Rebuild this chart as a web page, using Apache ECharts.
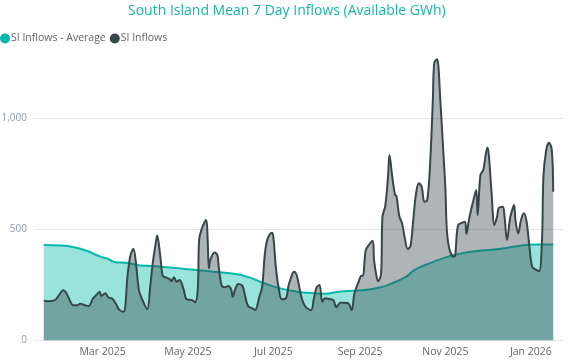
<!DOCTYPE html>
<html>
<head>
<meta charset="utf-8">
<script src="https://cdn.jsdelivr.net/npm/echarts@6/dist/echarts.min.js"></script>
<style>html,body{margin:0;padding:0;background:#fff}#c{width:569px;height:360px}</style>
</head>
<body>
<div id="c"></div>
<script>
const titleText = 'South Island Mean 7 Day Inflows (Available GWh)';
const seriesNames = ['SI Inflows - Average', 'SI Inflows'];

const avgDates = ['2025-01-18','2025-01-30','2025-02-08','2025-02-18','2025-02-27','2025-03-05','2025-03-10','2025-03-19','2025-03-28','2025-04-05','2025-04-16','2025-04-25','2025-05-07','2025-05-19','2025-05-31','2025-06-12','2025-06-24','2025-07-06','2025-07-18','2025-07-30','2025-08-06','2025-08-18','2025-08-27','2025-09-06','2025-09-15','2025-09-22','2025-10-04','2025-10-10','2025-10-22','2025-11-03','2025-11-15','2025-11-27','2025-12-09','2025-12-21','2026-01-02','2026-01-17'];
const avgValues = [429,427,420,402,378,366,352,348,337,335,329,324,317,309,302,287,258,234,219,212,210,220,223,228,238,252,287,317,350,377,395,404,411,422,431,431];

const inflowDates = [
'2025-01-18','2025-01-21','2025-01-26','2025-01-28','2025-02-01','2025-02-03','2025-02-06','2025-02-08','2025-02-11','2025-02-13',
'2025-02-16','2025-02-19','2025-02-22','2025-02-24','2025-02-27','2025-02-28','2025-03-03','2025-03-05','2025-03-08','2025-03-11',
'2025-03-13','2025-03-16','2025-03-19','2025-03-21','2025-03-23','2025-03-25','2025-03-27','2025-03-30','2025-04-02','2025-04-04',
'2025-04-06','2025-04-08','2025-04-09','2025-04-11','2025-04-13','2025-04-15','2025-04-18','2025-04-19','2025-04-21','2025-04-23',
'2025-04-25','2025-04-28','2025-04-30','2025-05-04','2025-05-06','2025-05-08','2025-05-09','2025-05-11','2025-05-14','2025-05-15',
'2025-05-16','2025-05-17','2025-05-20','2025-05-22','2025-05-23','2025-05-25','2025-05-27','2025-05-30','2025-06-01','2025-06-02',
'2025-06-04','2025-06-06','2025-06-09','2025-06-11','2025-06-13','2025-06-16','2025-06-18','2025-06-21','2025-06-23','2025-06-25',
'2025-06-27','2025-06-30','2025-07-01','2025-07-03','2025-07-05','2025-07-07','2025-07-10','2025-07-12','2025-07-15','2025-07-16',
'2025-07-18','2025-07-21','2025-07-24','2025-07-28','2025-07-30','2025-08-01','2025-08-03','2025-08-05','2025-08-07','2025-08-10',
'2025-08-13','2025-08-15','2025-08-18','2025-08-21','2025-08-24','2025-08-26','2025-08-28','2025-08-31','2025-09-02','2025-09-03',
'2025-09-05','2025-09-07','2025-09-10','2025-09-11','2025-09-13','2025-09-14','2025-09-16','2025-09-17','2025-09-19','2025-09-21',
'2025-09-22','2025-09-24','2025-09-26','2025-09-27','2025-09-29','2025-10-01','2025-10-03','2025-10-05','2025-10-07','2025-10-09',
'2025-10-11','2025-10-13','2025-10-15','2025-10-17','2025-10-19','2025-10-21','2025-10-23','2025-10-24','2025-10-26','2025-10-27',
'2025-10-28','2025-10-30','2025-11-01','2025-11-02','2025-11-04','2025-11-07','2025-11-08','2025-11-10','2025-11-13','2025-11-15',
'2025-11-16','2025-11-18','2025-11-21','2025-11-23','2025-11-24','2025-11-26','2025-11-28','2025-12-01','2025-12-02','2025-12-04',
'2025-12-06','2025-12-08','2025-12-09','2025-12-12','2025-12-13','2025-12-15','2025-12-17','2025-12-18','2025-12-20','2025-12-21',
'2025-12-23','2025-12-25','2025-12-27','2025-12-29','2025-12-31','2026-01-02','2026-01-05','2026-01-07','2026-01-09','2026-01-10',
'2026-01-12','2026-01-14','2026-01-16','2026-01-17'];
const inflowValues = [
180,176,181,196,226,214,174,158,158,165,
159,154,187,200,219,200,212,194,187,159,
137,129,302,384,412,339,226,174,140,241,
354,437,472,392,290,284,275,266,284,264,
272,227,185,181,171,227,452,504,542,467,
324,362,396,384,331,249,239,245,227,196,
234,254,245,196,154,144,136,196,239,392,
459,485,467,317,230,185,189,249,305,309,
287,196,151,136,189,239,249,174,189,186,
181,149,169,169,164,136,212,264,291,290,
405,427,448,360,280,266,300,557,605,740,
835,737,654,650,560,527,459,412,425,542,
662,707,692,624,632,790,1082,1248,1266,1232,
1120,902,677,497,407,377,384,519,530,534,
479,550,632,677,564,745,767,869,835,662,
519,560,595,602,572,452,542,572,609,542,
482,542,572,534,422,331,317,312,452,737,
857,890,857,669];

const tickDates = ['2025-03-01','2025-05-01','2025-07-01','2025-09-01','2025-11-01','2026-01-01'];
const tickLabels = ['Mar 2025','May 2025','Jul 2025','Sep 2025','Nov 2025','Jan 2026'];
const yTicks = [0, 500, 1000];

const P = s => { const [y, m, d] = s.split('-').map(Number); return Date.UTC(y, m - 1, d); };
const tickTimes = tickDates.map(P);

const chart = echarts.init(document.getElementById('c'), null, {renderer: 'canvas'});
const FONT = '"Open Sans", sans-serif';
chart.setOption({
  animation: false,
  title: {
    text: titleText, left: 128, top: 4, padding: 0,
    textStyle: {color: '#1AB5A8', fontSize: 14, fontWeight: 'normal', fontFamily: FONT}
  },
  legend: {
    left: 0, top: 33, padding: 0, itemGap: 4, itemWidth: 10, itemHeight: 10,
    icon: 'circle',
    textStyle: {color: '#666666', fontSize: 10.5, fontFamily: FONT, padding: [0,0,0,-4]},
    data: seriesNames
  },
  grid: {left: 34, right: 6, top: 51.7, bottom: 19.7, containLabel: false, outerBoundsMode: 'none'},
  xAxis: {
    type: 'value',
    min: P('2025-01-11'), max: P('2026-01-24'),
    axisLine: {show: false}, axisTick: {show: false}, splitLine: {show: false},
    axisLabel: {
      customValues: tickTimes,
      color: '#666666', fontSize: 10.5, fontFamily: FONT, margin: 6,
      formatter: v => { const i = tickTimes.indexOf(v); return i >= 0 ? tickLabels[i] : ''; }
    }
  },
  yAxis: {
    type: 'value', min: 0, max: 1300, interval: 500,
    axisLine: {show: false}, axisTick: {show: false},
    splitLine: {lineStyle: {color: ['#E6E6E6','#E6E6E6','#E6E6E6','rgba(0,0,0,0)'], width: 1}},
    axisLabel: {
      customValues: yTicks,
      color: '#8E98A4', fontSize: 10, fontFamily: FONT, margin: 7,
      formatter: v => v.toLocaleString('en-US')
    }
  },
  series: [
    {
      name: seriesNames[0], type: 'line', showSymbol: false, symbol: 'none', smooth: 0.5,
      data: avgDates.map((d, i) => [P(d), avgValues[i]]),
      itemStyle: {color: '#01B8AA'},
      lineStyle: {color: '#01B8AA', width: 2},
      areaStyle: {color: '#01B8AA', opacity: 0.4},
      z: 2
    },
    {
      name: seriesNames[1], type: 'line', showSymbol: false, symbol: 'none', smooth: 0.35,
      data: inflowDates.map((d, i) => [P(d), inflowValues[i]]),
      itemStyle: {color: '#374649'},
      lineStyle: {color: '#374649', width: 2},
      areaStyle: {color: '#374649', opacity: 0.4},
      z: 3
    }
  ]
});
</script>
</body>
</html>
